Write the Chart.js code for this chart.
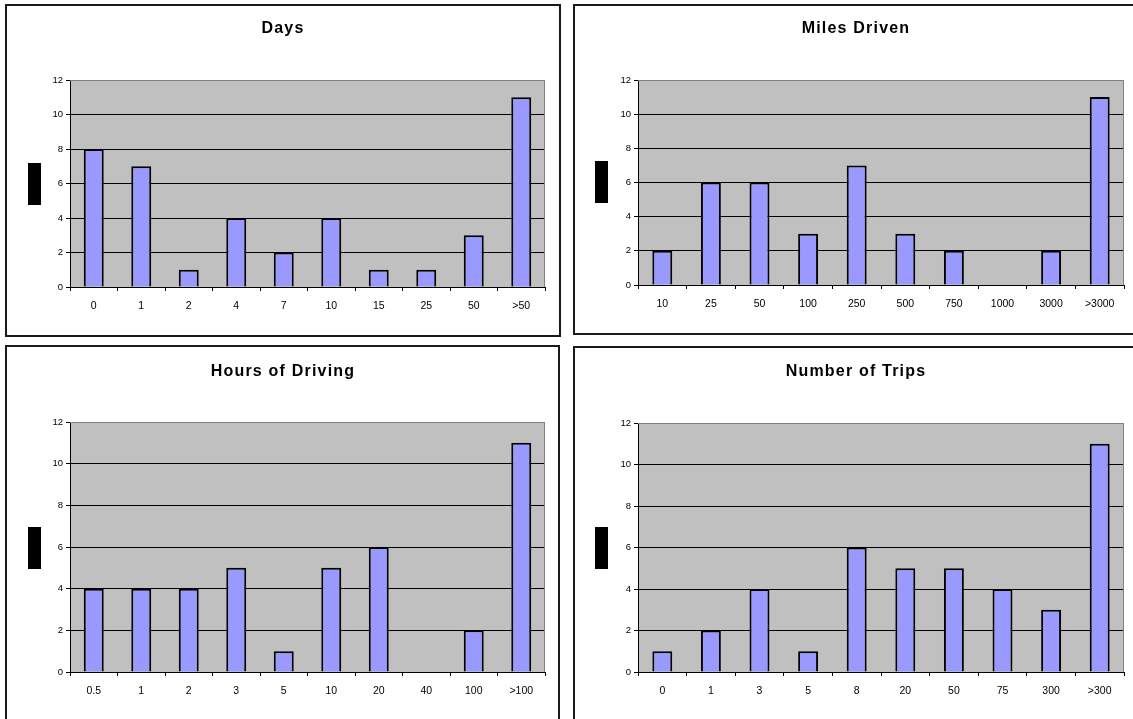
<!DOCTYPE html>
<html>
<head>
<meta charset="utf-8">
<script src="https://cdn.jsdelivr.net/npm/chart.js@4.4.1/dist/chart.umd.min.js"></script>
<style>
  html, body { margin: 0; padding: 0; background: #fff; width: 1133px; height: 719px; overflow: hidden; position: relative; }
  .box { position: absolute; box-sizing: border-box; border: 2px solid #1a1a1a; background: #fff; }
  .blk { position: absolute; background: #000; }
  canvas { position: absolute; }
</style>
</head>
<body>
<div class="box" style="left:5px;top:4px;width:556px;height:333px;"></div>
<div class="box" style="left:573px;top:4px;width:600px;height:331px;"></div>
<div class="box" style="left:5px;top:345px;width:555px;height:420px;"></div>
<div class="box" style="left:573px;top:346px;width:600px;height:420px;"></div>

<canvas id="c1" width="554" height="331" style="left:6px;top:5px;"></canvas>
<canvas id="c2" width="559" height="329" style="left:574px;top:5px;"></canvas>
<canvas id="c3" width="553" height="373" style="left:6px;top:346px;"></canvas>
<canvas id="c4" width="559" height="372" style="left:574px;top:347px;"></canvas>

<div class="blk" style="left:28px;top:163px;width:13px;height:42px;"></div>
<div class="blk" style="left:595px;top:161px;width:13px;height:42px;"></div>
<div class="blk" style="left:28px;top:527px;width:13px;height:42px;"></div>
<div class="blk" style="left:595px;top:527px;width:13px;height:42px;"></div>

<script>
// ---- Data ----
const daysTitle = "Days";
const daysLabels = ["0", "1", "2", "4", "7", "10", "15", "25", "50", ">50"];
const daysValues = [8, 7, 1, 4, 2, 4, 1, 1, 3, 11];

const milesTitle = "Miles Driven";
const milesLabels = ["10", "25", "50", "100", "250", "500", "750", "1000", "3000", ">3000"];
const milesValues = [2, 6, 6, 3, 7, 3, 2, 0, 2, 11];

const hoursTitle = "Hours of Driving";
const hoursLabels = ["0.5", "1", "2", "3", "5", "10", "20", "40", "100", ">100"];
const hoursValues = [4, 4, 4, 5, 1, 5, 6, 0, 2, 11];

const tripsTitle = "Number of Trips";
const tripsLabels = ["0", "1", "3", "5", "8", "20", "50", "75", "300", ">300"];
const tripsValues = [1, 2, 4, 1, 6, 5, 5, 4, 3, 11];

const yMin = 0, yMax = 12, yStep = 2;

// ---- Styling / plugins ----
const FONT = "'Liberation Sans', Arial, Helvetica, sans-serif";

const plotBg = {
  id: 'plotBg',
  beforeDraw(chart) {
    const a = chart.chartArea, ctx = chart.ctx;
    ctx.save();
    ctx.fillStyle = '#C0C0C0';
    ctx.fillRect(a.left, a.top, a.right - a.left, a.bottom - a.top);
    ctx.restore();
  },
  beforeDatasetsDraw(chart) {
    const a = chart.chartArea, ctx = chart.ctx;
    ctx.save();
    ctx.strokeStyle = '#808080';
    ctx.lineWidth = 1;
    ctx.beginPath();
    ctx.moveTo(a.left, a.top + 0.5);
    ctx.lineTo(a.right - 0.5, a.top + 0.5);
    ctx.lineTo(a.right - 0.5, a.bottom);
    ctx.stroke();
    ctx.restore();
  }
};

const plotTitle = {
  id: 'plotTitle',
  afterDraw(chart, args, opts) {
    const ctx = chart.ctx;
    ctx.save();
    ctx.fillStyle = '#000';
    ctx.font = 'bold 16px ' + FONT;
    ctx.textAlign = 'center';
    ctx.textBaseline = 'middle';
    if ('letterSpacing' in ctx) ctx.letterSpacing = '1.2px';
    ctx.fillText(opts.text, opts.x, opts.y);
    ctx.restore();
  }
};

function makeChart(id, title, labels, values, g) {
  new Chart(document.getElementById(id), {
    type: 'bar',
    data: {
      labels: labels,
      datasets: [{
        data: values,
        backgroundColor: '#9999FF',
        borderColor: '#000000',
        borderWidth: 2,
        borderSkipped: 'start',
        categoryPercentage: 1,
        barPercentage: g.bar
      }]
    },
    options: {
      responsive: false,
      animation: false,
      devicePixelRatio: 1,
      layout: { padding: { left: 0, right: g.right, top: g.top, bottom: 0 } },
      plugins: {
        legend: { display: false },
        tooltip: { enabled: false },
        title: { display: false },
        plotTitle: { text: title, x: g.tx, y: g.ty }
      },
      scales: {
        x: {
          afterFit(s) { s.height = g.xh; },
          grid: { offset: true, drawOnChartArea: false, drawTicks: true, tickLength: 4, tickColor: '#000', color: '#000' },
          border: { display: true, color: '#000', width: 1 },
          ticks: { color: '#000', font: { family: FONT, size: 10.5 }, padding: 9, maxRotation: 0, autoSkip: false }
        },
        y: {
          min: yMin, max: yMax,
          afterFit(s) { s.width = 64; },
          grid: {
            color: (c) => (c.tick && c.tick.value === yMax) ? '#808080' : '#000',
            tickColor: '#000', tickLength: 4, lineWidth: 1
          },
          border: { display: true, color: '#000', width: 1 },
          ticks: { stepSize: yStep, color: '#000', font: { family: FONT, size: 9.5 }, padding: 3 }
        }
      }
    },
    plugins: [plotBg, plotTitle]
  });
}

makeChart('c1', daysTitle, daysLabels, daysValues, { right: 15, top: 75, xh: 49, tx: 277, ty: 23.5, bar: 0.42 });
makeChart('c2', milesTitle, milesLabels, milesValues, { right: 9, top: 75, xh: 49, tx: 282, ty: 23.5, bar: 0.41 });
makeChart('c3', hoursTitle, hoursLabels, hoursValues, { right: 14, top: 76, xh: 47, tx: 277, ty: 25.5, bar: 0.42 });
makeChart('c4', tripsTitle, tripsLabels, tripsValues, { right: 9, top: 76, xh: 47, tx: 282, ty: 24.5, bar: 0.41 });
</script>
</body>
</html>
